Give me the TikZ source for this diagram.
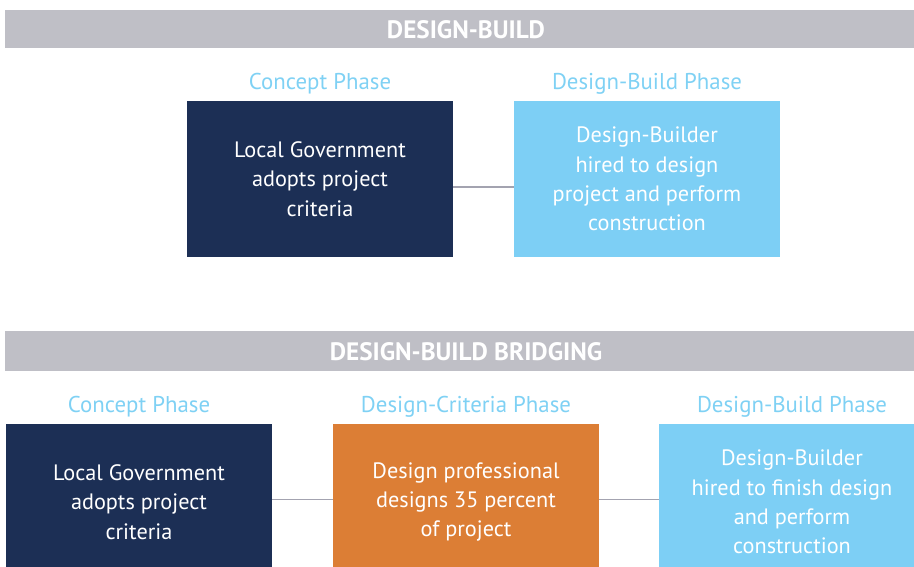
\documentclass[tikz,border=0pt]{standalone}
\usepackage{fontspec}
\setmainfont{PT Sans}
\usetikzlibrary{positioning}
\definecolor{cNavy}{HTML}{1c2f55}
\definecolor{cSky}{HTML}{7dcff5}
\definecolor{cOrange}{HTML}{dc7e35}
\definecolor{cBand}{HTML}{bfbfc6}
\definecolor{cLink}{HTML}{a3a3b0}
\definecolor{cHead}{HTML}{7fd1f4}
\tikzset{
  band/.style={fill=cBand,draw=none},
  bandtext/.style={text=white,font=\fontsize{21.5}{24}\selectfont\bfseries},
  phase/.style={text=cHead,inner sep=0pt,font=\fontsize{19.5}{22}\selectfont},
  card/.style={minimum width=7.98cm,minimum height=4.68cm,inner sep=0pt,
    text=white,align=center,font=\fontsize{19}{25}\selectfont},
  link/.style={cLink,line width=1.2pt},
}

\begin{document}
\begin{tikzpicture}[x=0.03cm,y=-0.03cm]
\useasboundingbox (0,0) rectangle (914,567);
\clip (0,0) rectangle (914,567);

% design-build
\fill[band] (5,10) rectangle (920,48);
\node[bandtext] (db) at (466,30) {DESIGN-BUILD};
\node[card,fill=cNavy] (dbA) at (320,179) {Local Government\\adopts project\\criteria};
\node[card,fill=cSky] (dbB) at (647,179) {Design-Builder\\hired to design\\project and perform\\construction};
\node[phase,above=1.8mm of dbA] (dbAt) {Concept Phase};
\node[phase,above=1.8mm of dbB] (dbBt) {Design-Build Phase};
\draw[link] ([yshift=-0.24cm]dbA.east) -- ([yshift=-0.24cm]dbB.west);

% design-build bridging
\fill[band] (5,331) rectangle (920,371);
\node[bandtext] (dbb) at (466,352) {DESIGN-BUILD BRIDGING};
\node[card,fill=cNavy,minimum height=4.68cm] (brA) at (139,502) {Local Government\\adopts project\\criteria};
\node[card,fill=cOrange,minimum height=4.68cm] (brB) at (466,502) {Design professional\\designs 35 percent\\of project};
\node[card,fill=cSky,minimum height=4.68cm] (brC) at (792,502) {Design-Builder\\hired to finish design\\and perform\\construction};
\node[phase,above=1.8mm of brA] (brAt) {Concept Phase};
\node[phase,above=1.8mm of brB] (brBt) {Design-Criteria Phase};
\node[phase,above=1.8mm of brC] (brCt) {Design-Build Phase};
\draw[link] ([yshift=0.08cm]brA.east) -- ([yshift=0.08cm]brB.west);
\draw[link] ([yshift=0.08cm]brB.east) -- ([yshift=0.08cm]brC.west);
\end{tikzpicture}
\end{document}
